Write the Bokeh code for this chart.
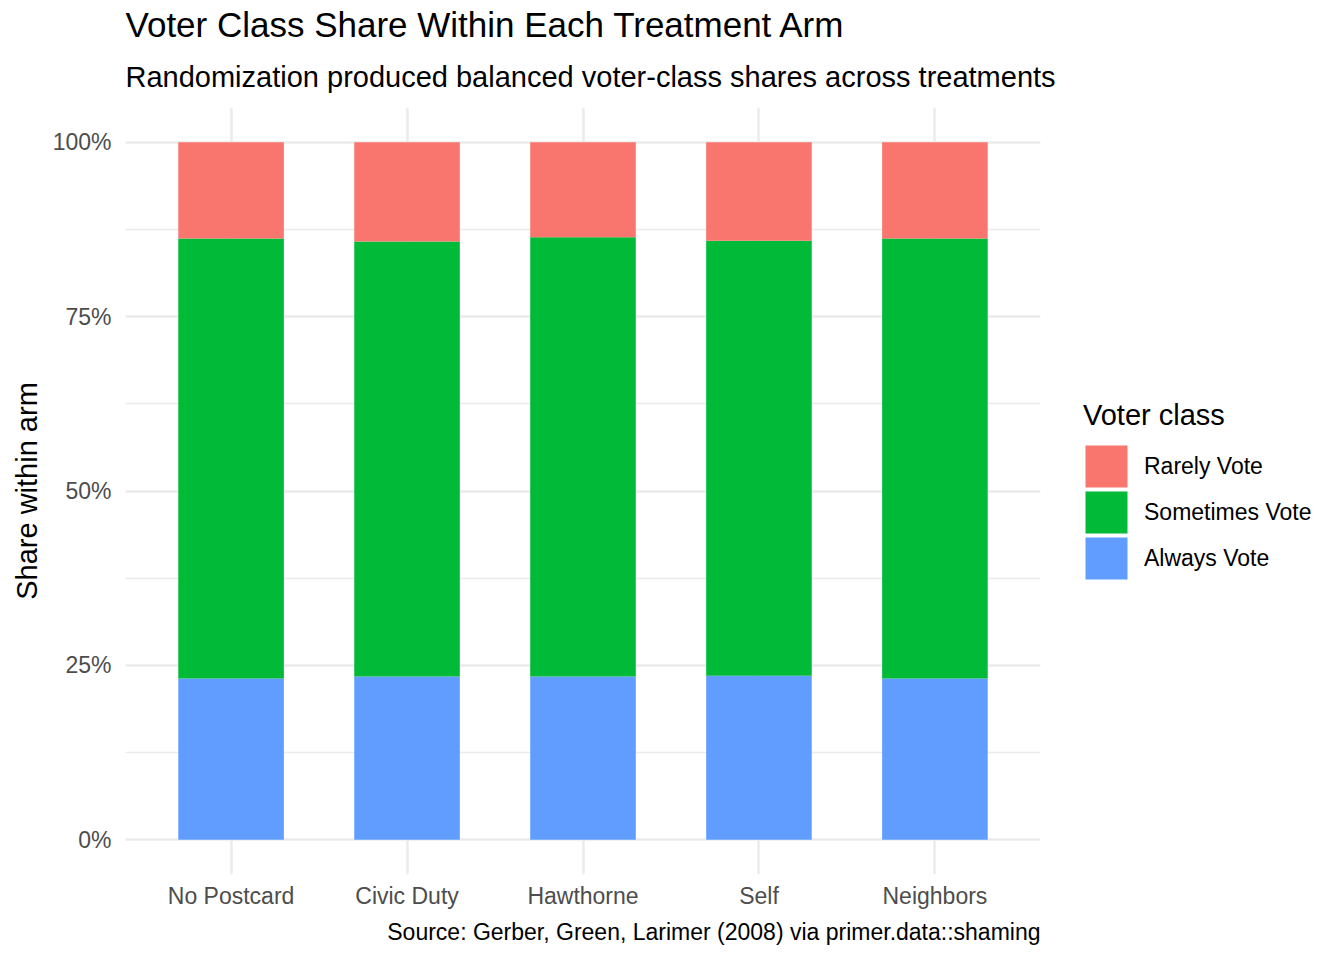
from bokeh.plotting import figure
from bokeh.models import (Range1d, FixedTicker, NumeralTickFormatter, Legend, LegendItem,
                          Title, ColumnDataSource)
from bokeh.embed import file_html
from bokeh.resources import INLINE

arms = ["No Postcard", "Civic Duty", "Hawthorne", "Self", "Neighbors"]
always = [0.231, 0.234, 0.234, 0.235, 0.231]
sometimes = [0.631, 0.624, 0.630, 0.624, 0.631]
rarely = [0.138, 0.142, 0.136, 0.141, 0.138]
classes = ["Always Vote", "Sometimes Vote", "Rarely Vote"]
colors = ["#619CFF", "#00BA38", "#F8766D"]
y_ticks = [0, 0.25, 0.5, 0.75, 1.0]
y_minor = [0.125, 0.375, 0.625, 0.875]

FONT = "Liberation Sans"

xpos = list(range(1, len(arms) + 1))
src = ColumnDataSource(dict(x=xpos, always=always, sometimes=sometimes, rarely=rarely))

p = figure(title=None, frame_width=915, frame_height=767,
           min_border_left=125, min_border_right=304, min_border_top=107, min_border_bottom=86,
           x_range=Range1d(0.4, 5.6), y_range=Range1d(-0.05, 1.05),
           output_backend="svg", toolbar_location=None)
p.outline_line_color = None

rs = p.vbar_stack(["always", "sometimes", "rarely"], x="x", width=0.6, source=src,
                  color=colors, line_color=None)

# hidden twins of the bars, used only to draw full-size legend keys
key_rs = [p.vbar(x="x", top=col, width=0.6, source=src, fill_color=c, line_color=c,
                 line_width=5.2, line_join="miter", visible=False)
          for col, c in zip(["always", "sometimes", "rarely"], colors)]

# axes
p.xaxis.ticker = FixedTicker(ticks=xpos)
p.xaxis.major_label_overrides = {i: a for i, a in zip(xpos, arms)}
p.yaxis.ticker = FixedTicker(ticks=y_ticks, minor_ticks=y_minor)
p.yaxis.formatter = NumeralTickFormatter(format="0%")
for ax in (p.xaxis[0], p.yaxis[0]):
    ax.axis_line_color = None
    ax.major_tick_line_color = None
    ax.minor_tick_line_color = None
    ax.major_label_text_font = FONT
    ax.major_label_text_font_size = "23px"
    ax.major_label_text_color = "#4D4D4D"
p.xaxis.major_label_standoff = 2
p.yaxis.major_label_standoff = 8
p.yaxis.axis_label = "Share within arm"
p.yaxis.axis_label_text_font = FONT
p.yaxis.axis_label_text_font_size = "29px"
p.yaxis.axis_label_text_font_style = "normal"
p.yaxis.axis_label_text_color = "black"
p.yaxis.axis_label_standoff = 7

# grid
p.xgrid.grid_line_color = "#EBEBEB"
p.xgrid.grid_line_width = 2.5
p.ygrid.grid_line_color = "#EBEBEB"
p.ygrid.grid_line_width = 2.5
p.ygrid.minor_grid_line_color = "#EBEBEB"
p.ygrid.minor_grid_line_width = 1.3

# titles
p.add_layout(Title(text="Randomization produced balanced voter-class shares across treatments",
                   text_font=FONT, text_font_size="29px", text_font_style="normal",
                   text_color="black", align="left", standoff=30), "above")
p.add_layout(Title(text="Voter Class Share Within Each Treatment Arm",
                   text_font=FONT, text_font_size="35px", text_font_style="normal",
                   text_color="black", align="left", standoff=0), "above")
p.add_layout(Title(text="Source: Gerber, Green, Larimer (2008) via primer.data::shaming",
                   text_font=FONT, text_font_size="23px", text_font_style="normal",
                   text_color="black", align="right", standoff=10), "below")

# legend
items = [LegendItem(label=c, renderers=[r]) for c, r in zip(classes, key_rs)][::-1]
legend = Legend(items=items, title="Voter class", location=(43, 293),
                title_text_font=FONT, title_text_font_size="29px", title_text_font_style="normal",
                title_text_color="black",
                label_text_font=FONT, label_text_font_size="23px", label_text_color="black",
                glyph_width=46, glyph_height=46, spacing=0, label_standoff=15,
                padding=0, margin=0, border_line_color=None, background_fill_alpha=0,
                title_standoff=11)
p.add_layout(legend, "right")

open("out.html", "w").write(file_html(p, INLINE))
